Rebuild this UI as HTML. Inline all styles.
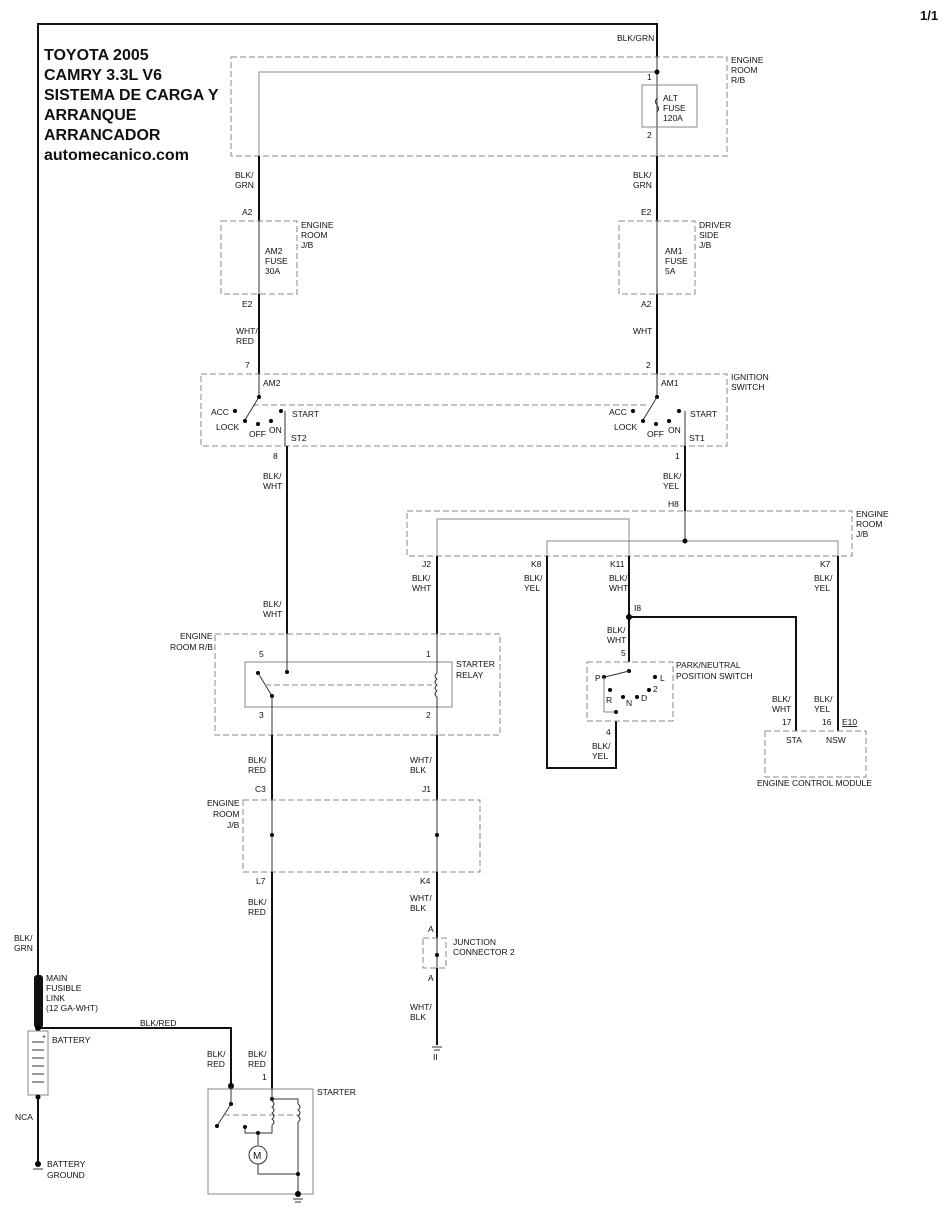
<!DOCTYPE html>
<html><head><meta charset="utf-8"><style>
html,body{margin:0;padding:0;background:#fff;}
svg{display:block;}
text{font-family:"Liberation Sans",Arial,sans-serif;font-size:8.5px;fill:#111;}
.t{font-size:16px;font-weight:bold;}
.w{stroke:#111;stroke-width:2;fill:none;}
.n{stroke:#333;stroke-width:1;fill:none;}
.g{stroke:#888;stroke-width:1;fill:none;}
.d{stroke:#888;stroke-width:1;fill:none;stroke-dasharray:6,3;}
</style></head><body>
<svg width="947" height="1214" viewBox="0 0 947 1214" xmlns="http://www.w3.org/2000/svg">
<text x="920" y="20" style="font-size:13px;font-weight:bold">1/1</text>
<text class="t" x="44" y="60">TOYOTA 2005</text>
<text class="t" x="44" y="80">CAMRY 3.3L V6</text>
<text class="t" x="44" y="100">SISTEMA DE CARGA Y</text>
<text class="t" x="44" y="120">ARRANQUE</text>
<text class="t" x="44" y="140">ARRANCADOR</text>
<text class="t" x="44" y="160">automecanico.com</text>

<!-- main left wire -->
<polyline class="w" points="38,975 38,24 657,24 657,57"/>
<text x="617" y="41">BLK/GRN</text>

<!-- Engine room R/B top -->
<rect class="d" x="231" y="57" width="496" height="99"/>
<text x="731" y="63">ENGINE</text><text x="731" y="73">ROOM</text><text x="731" y="83">R/B</text>
<polyline class="g" points="259,156 259,72 657,72"/>
<line class="n" x1="657" y1="57" x2="657" y2="156"/>
<circle cx="657" cy="72" r="2.5"/>
<rect class="g" x="642" y="85" width="55" height="42"/>
<path class="n" d="M657,98 q-3,4 0,7 q3,4 0,7"/>
<text x="647" y="80">1</text><text x="647" y="138">2</text>
<text x="663" y="101">ALT</text><text x="663" y="111">FUSE</text><text x="663" y="121">120A</text>

<line class="w" x1="259" y1="156" x2="259" y2="221"/>
<line class="w" x1="657" y1="156" x2="657" y2="221"/>
<text x="235" y="178">BLK/</text><text x="235" y="188">GRN</text>
<text x="633" y="178">BLK/</text><text x="633" y="188">GRN</text>
<text x="242" y="215">A2</text><text x="641" y="215">E2</text>

<rect class="d" x="221" y="221" width="76" height="73"/>
<text x="301" y="228">ENGINE</text><text x="301" y="238">ROOM</text><text x="301" y="248">J/B</text>
<line class="n" x1="259" y1="221" x2="259" y2="294"/>
<text x="265" y="254">AM2</text><text x="265" y="264">FUSE</text><text x="265" y="274">30A</text>
<rect class="d" x="619" y="221" width="76" height="73"/>
<text x="699" y="228">DRIVER</text><text x="699" y="238">SIDE</text><text x="699" y="248">J/B</text>
<line class="n" x1="657" y1="221" x2="657" y2="294"/>
<text x="665" y="254">AM1</text><text x="665" y="264">FUSE</text><text x="665" y="274">5A</text>
<text x="242" y="307">E2</text><text x="641" y="307">A2</text>

<line class="w" x1="259" y1="294" x2="259" y2="374"/>
<line class="w" x1="657" y1="294" x2="657" y2="374"/>
<text x="236" y="334">WHT/</text><text x="236" y="344">RED</text>
<text x="633" y="334">WHT</text>
<text x="245" y="368">7</text><text x="646" y="368">2</text>

<!-- ignition switch -->
<rect class="d" x="201" y="374" width="526" height="72"/>
<text x="731" y="380">IGNITION</text><text x="731" y="390">SWITCH</text>
<line class="n" x1="259" y1="374" x2="259" y2="397"/>
<line class="n" x1="657" y1="374" x2="657" y2="397"/>
<text x="263" y="386">AM2</text><text x="661" y="386">AM1</text>
<line class="d" x1="253" y1="405" x2="647" y2="405"/>
<g>
<circle cx="259" cy="397" r="2"/><line class="n" x1="259" y1="397" x2="245" y2="420"/>
<circle cx="235" cy="411" r="2"/><circle cx="245" cy="421" r="2"/>
<circle cx="258" cy="424" r="2"/><circle cx="271" cy="421" r="2"/><circle cx="281" cy="411" r="2"/>
<line class="n" x1="285" y1="411" x2="285" y2="446"/>
<text x="211" y="415">ACC</text><text x="216" y="430">LOCK</text><text x="249" y="437">OFF</text><text x="269" y="433">ON</text><text x="292" y="417">START</text><text x="291" y="441">ST2</text>
</g>
<g>
<circle cx="657" cy="397" r="2"/><line class="n" x1="657" y1="397" x2="643" y2="420"/>
<circle cx="633" cy="411" r="2"/><circle cx="643" cy="421" r="2"/>
<circle cx="656" cy="424" r="2"/><circle cx="669" cy="421" r="2"/><circle cx="679" cy="411" r="2"/>
<line class="n" x1="685" y1="411" x2="685" y2="446"/>
<text x="609" y="415">ACC</text><text x="614" y="430">LOCK</text><text x="647" y="437">OFF</text><text x="668" y="433">ON</text><text x="690" y="417">START</text><text x="689" y="441">ST1</text>
</g>
<text x="273" y="459">8</text><text x="675" y="459">1</text>

<line class="w" x1="287" y1="446" x2="287" y2="634"/>
<text x="263" y="479">BLK/</text><text x="263" y="489">WHT</text>
<text x="263" y="607">BLK/</text><text x="263" y="617">WHT</text>
<line class="w" x1="685" y1="446" x2="685" y2="511"/>
<text x="663" y="479">BLK/</text><text x="663" y="489">YEL</text>
<text x="668" y="507">H8</text>

<!-- engine room J/B middle -->
<rect class="d" x="407" y="511" width="445" height="45"/>
<text x="856" y="517">ENGINE</text><text x="856" y="527">ROOM</text><text x="856" y="537">J/B</text>
<polyline class="g" points="437,556 437,519 629,519 629,556"/>
<line class="n" x1="685" y1="511" x2="685" y2="541"/>
<polyline class="g" points="547,556 547,541 838,541 838,556"/>
<circle cx="685" cy="541" r="2.5"/>
<text x="422" y="567">J2</text><text x="531" y="567">K8</text><text x="610" y="567">K11</text><text x="820" y="567">K7</text>

<line class="w" x1="437" y1="556" x2="437" y2="634"/>
<text x="412" y="581">BLK/</text><text x="412" y="591">WHT</text>
<polyline class="w" points="547,556 547,768 616,768 616,721"/>
<text x="524" y="581">BLK/</text><text x="524" y="591">YEL</text>
<line class="w" x1="629" y1="556" x2="629" y2="662"/>
<text x="609" y="581">BLK/</text><text x="609" y="591">WHT</text>
<circle cx="629" cy="617" r="3"/><text x="634" y="611">I8</text>
<polyline class="w" points="629,617 796,617 796,731"/>
<text x="607" y="633">BLK/</text><text x="607" y="643">WHT</text>
<text x="621" y="656">5</text>
<line class="w" x1="838" y1="556" x2="838" y2="731"/>
<text x="814" y="581">BLK/</text><text x="814" y="591">YEL</text>

<!-- PNP switch -->
<rect class="d" x="587" y="662" width="86" height="59"/>
<text x="676" y="668">PARK/NEUTRAL</text><text x="676" y="679">POSITION SWITCH</text>
<circle cx="629" cy="671" r="2"/><line class="n" x1="629" y1="671" x2="605" y2="677"/>
<circle cx="604" cy="677" r="2"/><circle cx="655" cy="677" r="2"/>
<circle cx="610" cy="690" r="2"/><circle cx="649" cy="690" r="2"/>
<circle cx="623" cy="697" r="2"/><circle cx="637" cy="697" r="2"/>
<polyline class="g" points="604,677 604,712 616,712"/>
<circle cx="616" cy="712" r="2"/>
<text x="595" y="681">P</text><text x="660" y="681">L</text><text x="606" y="703">R</text><text x="626" y="706">N</text><text x="641" y="701">D</text><text x="653" y="692">2</text>
<text x="606" y="735">4</text>
<text x="592" y="749">BLK/</text><text x="592" y="759">YEL</text>

<!-- ECM -->
<rect class="d" x="765" y="731" width="101" height="46"/>
<text x="772" y="702">BLK/</text><text x="772" y="712">WHT</text>
<text x="814" y="702">BLK/</text><text x="814" y="712">YEL</text>
<text x="782" y="725">17</text><text x="822" y="725">16</text><text x="842" y="725" style="text-decoration:underline">E10</text>
<text x="786" y="743">STA</text><text x="826" y="743">NSW</text>
<text x="757" y="786">ENGINE CONTROL MODULE</text>

<!-- starter relay -->
<rect class="d" x="215" y="634" width="285" height="101"/>
<text x="180" y="639">ENGINE</text><text x="170" y="650">ROOM R/B</text>
<rect class="g" x="245" y="662" width="207" height="45"/>
<text x="456" y="667">STARTER</text><text x="456" y="678">RELAY</text>
<text x="259" y="657">5</text><text x="426" y="657">1</text><text x="259" y="718">3</text><text x="426" y="718">2</text>
<line class="n" x1="287" y1="634" x2="287" y2="672"/><circle cx="287" cy="672" r="2"/>
<circle cx="258" cy="673" r="2"/><line class="n" x1="258" y1="673" x2="272" y2="696"/><circle cx="272" cy="696" r="2"/>
<line class="d" x1="265" y1="685" x2="432" y2="685"/>
<line class="n" x1="437" y1="634" x2="437" y2="673"/>
<path class="n" d="M437,673 q-4,3 0,6 q-4,3 0,6 q-4,3 0,6 q-4,3 0,6"/>
<line class="n" x1="437" y1="697" x2="437" y2="735"/>
<line class="n" x1="272" y1="696" x2="272" y2="735"/>

<line class="w" x1="272" y1="735" x2="272" y2="800"/>
<text x="248" y="763">BLK/</text><text x="248" y="773">RED</text>
<text x="255" y="792">C3</text>
<line class="w" x1="437" y1="735" x2="437" y2="800"/>
<text x="410" y="763">WHT/</text><text x="410" y="773">BLK</text>
<text x="422" y="792">J1</text>

<rect class="d" x="243" y="800" width="237" height="72"/>
<text x="207" y="806">ENGINE</text><text x="213" y="817">ROOM</text><text x="227" y="828">J/B</text>
<line class="n" x1="272" y1="800" x2="272" y2="872"/><circle cx="272" cy="835" r="2"/>
<line class="n" x1="437" y1="800" x2="437" y2="872"/><circle cx="437" cy="835" r="2"/>
<text x="256" y="884">L7</text><text x="420" y="884">K4</text>

<line class="w" x1="272" y1="872" x2="272" y2="1089"/>
<text x="248" y="905">BLK/</text><text x="248" y="915">RED</text>
<line class="w" x1="437" y1="872" x2="437" y2="938"/>
<text x="410" y="901">WHT/</text><text x="410" y="911">BLK</text>
<text x="428" y="932">A</text>
<rect class="d" x="423" y="938" width="23" height="30"/>
<line class="n" x1="437" y1="938" x2="437" y2="968"/><circle cx="437" cy="955" r="2"/>
<text x="453" y="945">JUNCTION</text><text x="453" y="955">CONNECTOR 2</text>
<text x="428" y="981">A</text>
<line class="w" x1="437" y1="968" x2="437" y2="1045"/>
<text x="410" y="1010">WHT/</text><text x="410" y="1020">BLK</text>
<line class="n" x1="432" y1="1047" x2="442" y2="1047"/><line class="n" x1="434" y1="1050" x2="440" y2="1050"/>
<text x="433" y="1060">II</text>

<!-- battery side -->
<text x="14" y="941">BLK/</text><text x="14" y="951">GRN</text>
<rect x="34" y="975" width="9" height="53" rx="3" fill="#111"/>
<text x="46" y="981">MAIN</text><text x="46" y="991">FUSIBLE</text><text x="46" y="1001">LINK</text><text x="46" y="1011">(12 GA-WHT)</text>
<polyline class="w" points="38,1028 231,1028 231,1085"/>
<circle cx="38" cy="1028" r="3"/>
<text x="140" y="1026">BLK/RED</text>
<rect class="g" x="28" y="1031" width="20" height="64"/>
<g class="n"><line x1="32" y1="1042" x2="44" y2="1042"/><line x1="32" y1="1050" x2="44" y2="1050"/><line x1="32" y1="1058" x2="44" y2="1058"/><line x1="32" y1="1066" x2="44" y2="1066"/><line x1="32" y1="1074" x2="44" y2="1074"/><line x1="32" y1="1082" x2="44" y2="1082"/></g>
<text x="42" y="1039" style="font-size:7px">+</text>
<text x="52" y="1043">BATTERY</text>
<circle cx="38" cy="1097" r="2.5"/>
<line class="w" x1="38" y1="1097" x2="38" y2="1163"/>
<text x="15" y="1120">NCA</text>
<circle cx="38" cy="1164" r="3"/>
<line class="n" x1="33" y1="1169" x2="43" y2="1169"/>
<text x="47" y="1167">BATTERY</text><text x="47" y="1178">GROUND</text>

<!-- starter -->
<text x="207" y="1057">BLK/</text><text x="207" y="1067">RED</text>
<text x="248" y="1057">BLK/</text><text x="248" y="1067">RED</text>
<text x="262" y="1080">1</text>
<circle cx="231" cy="1086" r="3"/>
<rect class="g" x="208" y="1089" width="105" height="105"/>
<text x="317" y="1095">STARTER</text>
<line class="n" x1="231" y1="1086" x2="231" y2="1104"/><circle cx="231" cy="1104" r="2"/>
<line class="n" x1="231" y1="1104" x2="217" y2="1126"/><circle cx="217" cy="1126" r="2"/>
<line class="d" x1="224" y1="1115" x2="300" y2="1115"/>
<line class="n" x1="272" y1="1089" x2="272" y2="1099"/><circle cx="272" cy="1099" r="2"/>
<polyline class="n" points="272,1099 298,1099 298,1104"/>
<path class="n" d="M272,1101 q4,3 0,6 q4,3 0,6 q4,3 0,6 q4,3 0,6 M298,1104 q4,3 0,6 q4,3 0,6 q4,3 0,6"/>
<polyline class="n" points="272,1125 272,1133 258,1133"/>
<circle cx="245" cy="1127" r="2"/><polyline class="n" points="245,1127 245,1133 258,1133"/>
<circle cx="258" cy="1133" r="2"/>
<line class="n" x1="258" y1="1133" x2="258" y2="1145"/>
<circle cx="258" cy="1155" r="9" class="n" fill="#fff"/>
<text x="253" y="1159" style="font-size:10px">M</text>
<polyline class="n" points="258,1164 258,1174 298,1174"/>
<line class="n" x1="298" y1="1122" x2="298" y2="1194"/>
<circle cx="298" cy="1174" r="2"/>
<circle cx="298" cy="1194" r="3"/>
<line class="n" x1="293" y1="1199" x2="303" y2="1199"/><line class="n" x1="295" y1="1202" x2="301" y2="1202"/>
</svg>
</body></html>
